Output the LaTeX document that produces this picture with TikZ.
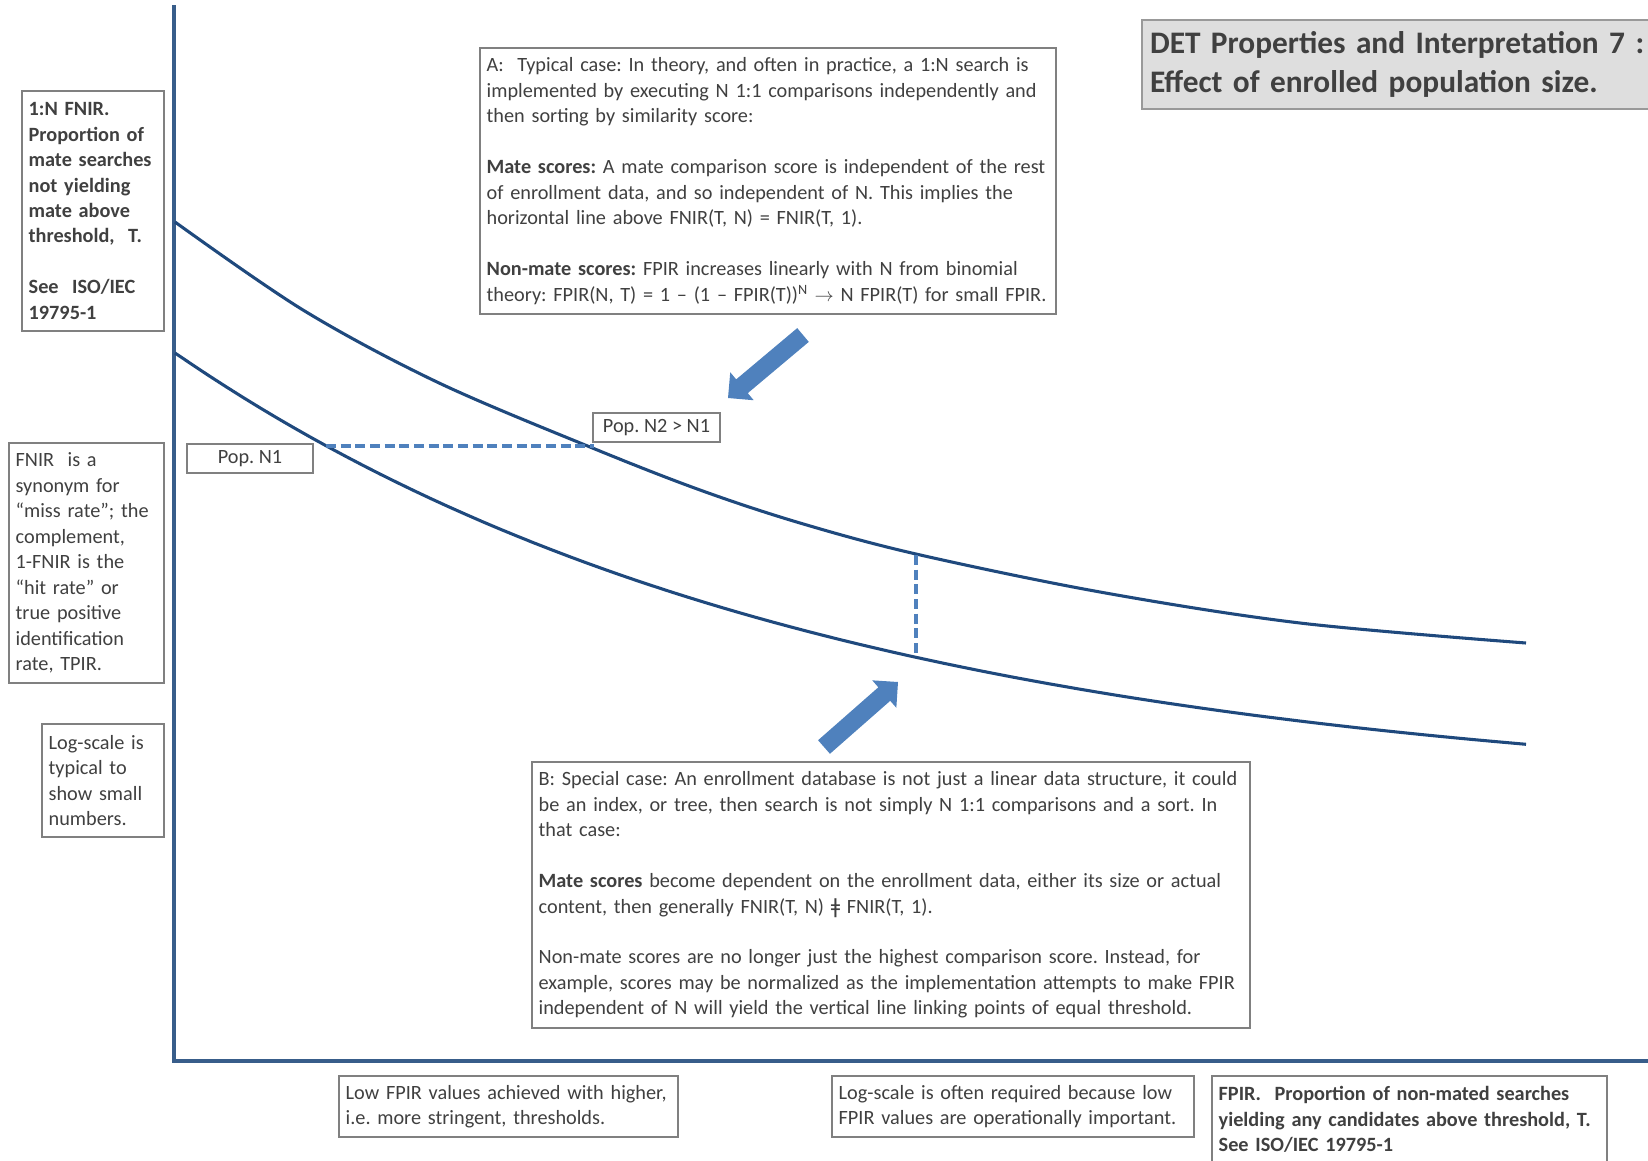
\documentclass[tikz,border=0pt]{standalone}
\usepackage{fontspec}
\setmainfont{Carlito}
\newfontfamily\symfont{DejaVu Sans}
\usetikzlibrary{calc}

\definecolor{axisblue}{RGB}{56,93,138}
\definecolor{curveblue}{RGB}{31,73,125}
\definecolor{accentblue}{RGB}{79,129,189}
\definecolor{boxgray}{RGB}{128,128,128}
\definecolor{txtgray}{RGB}{64,64,64}
\definecolor{titlefill}{RGB}{222,222,222}

\newcommand\bodyfont{\fontsize{15.2}{19.1}\selectfont\frenchspacing}
\newcommand\titlefont{\fontsize{23.5}{29.25}\selectfont\bfseries\frenchspacing}

% filled block arrow from a tail coordinate to a tip coordinate
\newcommand\blockarrow[2]{%
  \coordinate (#1-base) at ($(#2)!13.7pt!(#1)$);
  \fill[accentblue]
    ($(#1)!6.75pt!90:(#2)$) -- ($(#1-base)!6.75pt!90:(#2)$) --
    ($(#1-base)!13.7pt!90:(#2)$) -- (#2) --
    ($(#1-base)!13.7pt!-90:(#2)$) -- ($(#1-base)!6.75pt!-90:(#2)$) --
    ($(#1)!6.75pt!-90:(#2)$) -- cycle;}

\begin{document}
\begin{tikzpicture}[x=0.75pt, y=-0.75pt,
  every node/.style={font=\bodyfont, text=txtgray},
  note/.style={draw=boxgray, line width=1.5pt, fill=white, anchor=north west,
    inner xsep=5pt, inner ysep=0pt, align=left},
  popbox/.style={draw=boxgray, line width=1.5pt, fill=white, anchor=north west,
    inner sep=0pt, align=center},
  axisline/.style={draw=axisblue, line width=3pt},
  detcurve/.style={draw=curveblue, line width=2.3pt},
  guide/.style={draw=accentblue, line width=2.6pt, dash pattern=on 7.5pt off 3.5pt},
]
\useasboundingbox (0,0) rectangle (1648,1160);
\clip (0,0) rectangle (1648,1160);

% axes
\coordinate (ytop) at (174,5);
\coordinate (origin) at (174,1061);
\coordinate (xend) at (1660,1061);
\draw[axisline] (ytop) -- (origin) -- (xend);

% DET curves for two enrolled population sizes
\draw[detcurve] plot[smooth, tension=0.55] coordinates {
  (175,222) (303,310) (437,382) (590,447) (700,490) (800,523) (916,554)
  (1100,592) (1300,623) (1526,643)};
\draw[detcurve] plot[domain=175:1526, samples=80]
  (\x, {800-447*exp(-0.001535*(\x-175))});

% equal-FNIR and equal-threshold guides
\coordinate (n1pt) at (326,446);
\coordinate (n2pt) at (594,446);
\coordinate (vtop) at (916,555);
\coordinate (vbot) at (916,657);
\draw[guide] (n1pt) -- (n2pt);
\draw[guide] (vtop) -- (vbot);

% block arrows
\coordinate (tailA) at (803,335);
\coordinate (tipA) at (728,398);
\coordinate (tailB) at (824,747);
\coordinate (tipB) at (898,682);
\blockarrow{tailA}{tipA}
\blockarrow{tailB}{tipB}

% title
\node[note, fill=titlefill, draw=boxgray!80, text width=420pt, minimum height=66.75pt,
  inner xsep=6pt, font=\titlefont] (title) at (1141,19)
  {DET Properties and Interpretation 7 :\\Effect of enrolled population size.};

% y-axis notes
\node[note, text width=96.5pt, minimum height=180pt, font=\bodyfont\bfseries] (fnirlabel) at (21,90)
  {1:N FNIR.\\Proportion of\\mate searches\\not yielding\\mate above\\threshold,~~T.\\[19.1pt]See~~ISO/IEC\\19795-1};
\node[note, text width=106.25pt, minimum height=180pt] (synonym) at (8,442)
  {FNIR~~is a\\synonym for\\“miss rate”; the\\complement,\\1-FNIR is the\\“hit rate” or\\true positive\\identification\\rate, TPIR.};
\node[note, text width=81.5pt, minimum height=84.75pt] (logy) at (41,723)
  {Log-scale is\\typical to\\show small\\numbers.};

% population labels
\node[popbox, minimum width=94.5pt, minimum height=21.75pt] (popA) at (186,443) {Pop. N1};
\node[popbox, minimum width=95.25pt, minimum height=21.75pt] (popB) at (592,412) {Pop. N2 > N1};

% case A
\node[note, text width=422pt, minimum height=199.5pt] (caseA) at (479,47)
  {A:~~Typical case: In theory, and often in practice, a 1:N search is\\
   implemented by executing N 1:1 comparisons independently and\\
   then sorting by similarity score:\\[19.1pt]
   \textbf{Mate scores:} A mate comparison score is independent of the rest\\
   of enrollment data, and so independent of N. This implies the\\
   horizontal line above FNIR(T, N) = FNIR(T, 1).\\[19.1pt]
   \textbf{Non-mate scores:} FPIR increases linearly with N from binomial\\
   theory: FPIR(N, T) = 1 – (1 – FPIR(T))\textsuperscript{N} $\rightarrow$ N FPIR(T) for small FPIR.};

% case B
\node[note, text width=528.5pt, minimum height=199.5pt] (caseB) at (531,761)
  {B: Special case: An enrollment database is not just a linear data structure, it could\\
   be an index, or tree, then search is not simply N 1:1 comparisons and a sort. In\\
   that case:\\[19.1pt]
   \textbf{Mate scores} become dependent on the enrollment data, either its size or actual\\
   content, then generally FNIR(T, N) {\symfont ǂ} FNIR(T, 1).\\[19.1pt]
   Non-mate scores are no longer just the highest comparison score. Instead, for\\
   example, scores may be normalized as the implementation attempts to make FPIR\\
   independent of N will yield the vertical line linking points of equal threshold.};

% x-axis notes
\node[note, text width=244.25pt, minimum height=45.75pt] (lowfpir) at (338,1075)
  {Low FPIR values achieved with higher,\\i.e. more stringent, thresholds.};
\node[note, text width=261.5pt, minimum height=45.75pt] (logx) at (831,1075)
  {Log-scale is often required because low\\FPIR values are operationally important.};
\node[note, text width=286.25pt, minimum height=65pt, font=\bodyfont\bfseries] (fpirlabel) at (1211,1075)
  {FPIR.~~Proportion of non-mated searches\\yielding any candidates above threshold, T.\\See ISO/IEC 19795-1};
\end{tikzpicture}
\end{document}
